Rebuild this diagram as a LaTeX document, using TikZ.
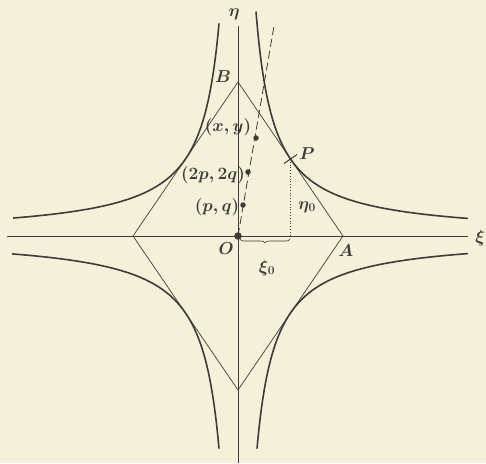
\documentclass[tikz,border=0pt]{standalone}
\usetikzlibrary{decorations.pathreplacing,calc}
\definecolor{paper}{HTML}{F4F0DA}
\definecolor{ink}{HTML}{3C3C38}
\begin{document}
\begin{tikzpicture}[x=1pt,y=-1pt,
  thin line/.style={ink,line width=0.7pt},
  curve/.style={ink,line width=1.6pt},
  lab/.style={inner sep=0pt,text=ink,font=\fontsize{16.5}{18}\selectfont\boldmath},
  dot/.style={circle,fill=ink,inner sep=0pt,minimum size=#1}]
\fill[paper] (0,0) rectangle (486,463);
\useasboundingbox (0,0) rectangle (486,463);
% key points
\coordinate (O) at (238,236);
\coordinate (A) at (343,236);
\coordinate (B) at (238,82);
\coordinate (C) at (133,236);
\coordinate (D) at (238,390);
\coordinate (P) at (290.5,159);
\coordinate (Pf) at (290.5,236);
\coordinate (xl) at (7,236);
\coordinate (xr) at (468,236);
\coordinate (yt) at (238,26);
\coordinate (yb) at (238,463);
\coordinate (dtop) at (274,26);
\coordinate (t1) at (284,163.5);
\coordinate (t2) at (297,154.5);
% axes
\draw[thin line] (xl) -- (xr);
\draw[thin line] (yt) -- (yb);
% diamond
\draw[thin line] (A) -- (B) -- (C) -- (D) -- cycle;
% hyperbolas |xy| = 4040
\draw[curve] plot[domain={ln(18)}:{ln(230)},samples=60,smooth] ({238+exp(\x)},{236-4040/exp(\x)});
\draw[curve] plot[domain={ln(19)}:{ln(225)},samples=60,smooth] ({238-exp(\x)},{236-4040/exp(\x)});
\draw[curve] plot[domain={ln(19)}:{ln(226)},samples=60,smooth] ({238-exp(\x)},{236+4040/exp(\x)});
\draw[curve] plot[domain={ln(19)}:{ln(230)},samples=60,smooth] ({238+exp(\x)},{236+4040/exp(\x)});
% dashed ray
\draw[ink,line width=0.8pt,dash pattern=on 8pt off 4pt] (O) -- (dtop);
% tick at P (normal to tangent)
\draw[ink,line width=1pt] (t1) -- (t2);
% dotted ordinate
\draw[ink,line width=0.8pt,dotted] (P) -- (Pf);
% brace
\draw[ink,line width=0.6pt,decorate,decoration={brace,amplitude=4pt,mirror}] (240,239) -- (290,239);
% dots
\node[dot=7.5pt] (Od) at (O) {};
\node[dot=5.5pt] (pq) at (243,205) {};
\node[dot=5.5pt] (pq2) at (248,172) {};
\node[dot=5.5pt] (xy) at (256,138) {};
% labels
\node[lab] (lB) at (223,77) {$B$};
\node[lab] (lA) at (346,251) {$A$};
\node[lab] (lO) at (226,249) {$O$};
\node[lab] (lP) at (307,154) {$P$};
\node[lab] (lxi) at (480,238) {$\xi$};
\node[lab] (leta) at (234,14) {$\eta$};
\node[lab] (lxy) at (228,127) {$(x,y)$};
\node[lab] (lpq2) at (213,175) {$(2p,2q)$};
\node[lab] (lpq) at (217,207) {$(p,q)$};
\node[lab] (leta0) at (307,207) {$\eta_0$};
\node[lab] (lxi0) at (267,268) {$\xi_0$};
\end{tikzpicture}
\end{document}
